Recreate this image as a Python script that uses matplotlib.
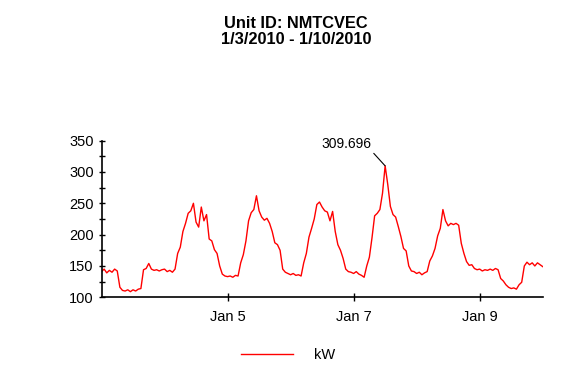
import pandas as pd
import matplotlib
matplotlib.use('Agg')
import matplotlib.pyplot as plt
from matplotlib.ticker import MultipleLocator

# Hourly demand in kW (Jan 3 00:00 .. Jan 10 00:00)
jan3 = [141, 145, 139, 143, 140, 145, 142, 116, 111, 110, 112, 109,
        112, 110, 113, 114, 144, 146, 154, 145, 143, 144, 142, 144]
jan4 = [145, 141, 143, 140, 145, 170, 180, 205, 218, 234, 238, 250,
        220, 212, 244, 222, 232, 193, 190, 176, 170, 150, 137, 134]
jan5 = [133, 134, 132, 135, 134, 155, 168, 190, 222, 235, 240, 262,
        238, 228, 223, 226, 218, 205, 187, 184, 175, 145, 140, 138]
jan6 = [136, 138, 135, 136, 134, 155, 170, 196, 210, 225, 248, 252,
        244, 238, 236, 222, 237, 205, 184, 175, 162, 145, 141, 140]
jan7 = [138, 141, 137, 135, 132, 150, 164, 195, 230, 234, 240, 266,
        309.696, 280, 245, 232, 228, 213, 197, 178, 174, 150, 142, 141]
jan8 = [138, 140, 136, 139, 141, 158, 166, 178, 198, 210, 240, 222,
        214, 218, 216, 218, 215, 186, 170, 157, 151, 152, 146, 144]
jan9 = [145, 142, 144, 143, 145, 143, 146, 144, 130, 126, 120, 116,
        114, 115, 113, 120, 124, 150, 156, 152, 155, 150, 155, 152, 149]

kw = jan3 + jan4 + jan5 + jan6 + jan7 + jan8 + jan9
times = pd.date_range('2010-01-03 00:00', periods=len(kw), freq='h')

tick_dates = ['2010-01-05', '2010-01-07', '2010-01-09']
tick_labels = ['Jan 5', 'Jan 7', 'Jan 9']

plt.rcParams['font.family'] = ['Liberation Sans', 'DejaVu Sans']

fig = plt.figure(figsize=(5.8, 3.8), dpi=100)
ax = fig.add_axes([0.175, 0.2176, 0.7607, 0.4124])

line, = ax.plot(times, kw, color='red', lw=1.0, label='kW')

ax.set_xlim(pd.Timestamp('2010-01-03'), pd.Timestamp('2010-01-10'))
ax.set_ylim(100, 350)

ax.set_xticks(pd.to_datetime(tick_dates))
ax.set_xticklabels(tick_labels)
ax.yaxis.set_major_locator(MultipleLocator(50))
ax.yaxis.set_minor_locator(MultipleLocator(25))

ax.tick_params(axis='x', direction='inout', length=6, width=1, labelsize=10.5, pad=6)
ax.tick_params(axis='y', which='both', direction='inout', length=5, width=1, labelsize=10.5, pad=3)

for s in ['top', 'right']:
    ax.spines[s].set_visible(False)
for s in ['left', 'bottom']:
    ax.spines[s].set_linewidth(1.2)

# label the peak value
peak_i = kw.index(max(kw))
ax.annotate(f'{max(kw):.3f}', xy=(times[peak_i], kw[peak_i]),
            xytext=(-10, 11), textcoords='offset points',
            ha='right', va='bottom', fontsize=10,
            arrowprops=dict(arrowstyle='-', color='black', lw=0.8,
                            relpos=(1, 0), shrinkA=0, shrinkB=0))

fig.text(296 / 580, 1 - 24 / 380, 'Unit ID: NMTCVEC', ha='center', va='center',
         fontsize=11.8, fontweight='bold')
fig.text(296 / 580, 1 - 39 / 380, '1/3/2010 - 1/10/2010', ha='center', va='center',
         fontsize=11.8, fontweight='bold')

fig.legend(handles=[line], loc='center', bbox_to_anchor=(288 / 580, 1 - 355 / 380),
           frameon=False, fontsize=10.5, handlelength=3.6, handletextpad=1.4)

fig.savefig('out.png', dpi=100)
